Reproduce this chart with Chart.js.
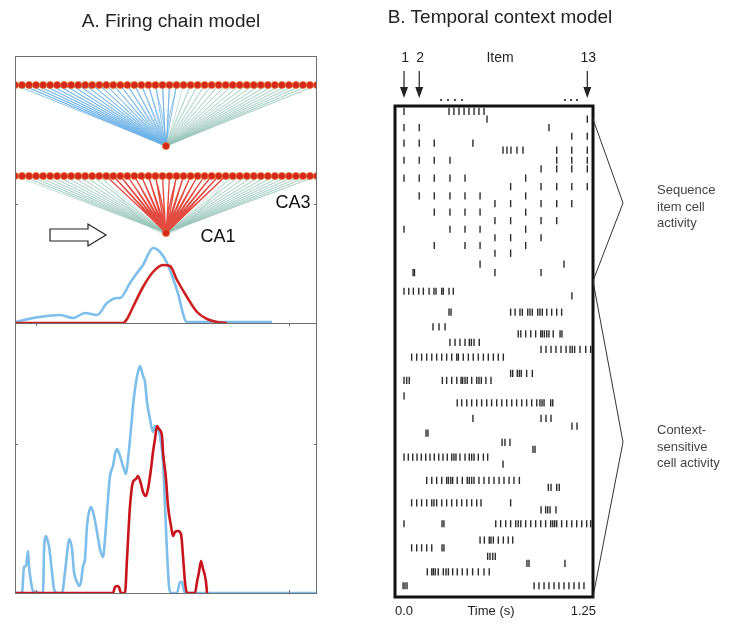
<!DOCTYPE html>
<html>
<head>
<meta charset="utf-8">
<script src="https://cdn.jsdelivr.net/npm/chart.js@4.4.1/dist/chart.umd.min.js"></script>
<style>
html, body { margin: 0; padding: 0; background: #fff; }
#wrap { position: relative; width: 729px; height: 631px; overflow: hidden; font-family: "Liberation Sans", Arial, sans-serif; color: #222; }
#wrap canvas { position: absolute; left: 0; top: 0; }
.t { position: absolute; white-space: nowrap; }
.title { font-size: 19px; line-height: 22px; transform: translateX(-50%); }
.side { font-size: 13px; line-height: 16.5px; color: #444; }
</style>
</head>
<body>
<div id="wrap">
  <canvas id="netChart" width="729" height="631"></canvas>
  <canvas id="rateChart" width="729" height="631"></canvas>
  <canvas id="rasterChart" width="729" height="631"></canvas>
  <div class="t title" style="left:171px;top:10px">A. Firing chain model</div>
  <div class="t title" style="left:500px;top:6px">B. Temporal context model</div>
  <div class="t side" style="left:657px;top:182px">Sequence<br>item cell<br>activity</div>
  <div class="t side" style="left:657px;top:422px">Context-<br>sensitive<br>cell activity</div>
</div>
<script>
// ---- Panel A: network (neuron index along each row) ----
var nodeIndex = [0,1,2,3,4,5,6,7,8,9,10,11,12,13,14,15,16,17,18,19,20,21,22,23,24,25,26,27,28,29,30,31,32,33,34,35,36,37,38,39,40,41,42,43];
var blueInputs = [0,1,2,3,4,5,6,7,8,9,10,11,12,13,14,15,16,17,18,19,20,21,22,23];
var redInputs = [13,14,15,16,17,18,19,20,21,22,23,24,25,26,27,28,29,30];
var hubIndex = 21.5;
var rowLevel = { top: 238, hub1: 177, mid: 147, hub2: 90 };

// ---- Panel A: upper activity curves [x, y] ----
var upperBlue = [[1,1],[18,5],[32,7],[45,8],[58,5],[70,10],[82,8],[92,20],[102,25],[105,25],[115,40],[122,50],[128,58],[138,75],[145,71],[152,60],[162,33],[172,1],[257,1]];
var upperRed = [[0,0],[108,0],[112,4],[118,16],[128,36],[138,51],[148,58],[155,57],[162,43],[172,26],[182,11],[192,4],[202,1],[212,0]];

// ---- Panel A: lower activity curves [x, y] ----
var lowerBlue = [[0,0],[7,0],[9,26],[11,27],[13,42],[14,27],[16,11],[18,2],[25,0],[28,0],[29,41],[31,57],[33,51],[34,47],[37,21],[39,4],[42,0],[47,0],[50,21],[52,39],[54,54],[57,44],[59,21],[62,11],[64,7],[66,11],[68,27],[70,34],[72,67],[74,81],[76,86],[79,77],[82,61],[85,44],[88,36],[90,54],[92,81],[95,117],[98,127],[100,139],[102,144],[105,137],[108,127],[111,119],[113,134],[116,164],[118,187],[121,211],[123,221],[125,227],[128,217],[130,211],[132,191],[135,174],[138,161],[140,167],[143,164],[145,157],[148,131],[150,87],[152,41],[154,7],[156,0],[162,0],[165,11],[167,11],[169,2],[172,0],[302,0]];
var lowerRed = [[0,0],[98,0],[100,6],[102,7],[104,6],[106,0],[110,0],[112,34],[115,87],[118,111],[121,114],[123,117],[126,109],[128,101],[131,97],[133,104],[136,124],[138,141],[140,154],[142,167],[144,164],[147,157],[148,141],[151,114],[153,87],[156,67],[158,57],[160,61],[163,62],[166,59],[168,37],[170,11],[172,0],[180,0],[182,11],[184,21],[186,32],[188,24],[189,21],[191,11],[192,0]];

var frameTicksX = [21, 274];
var upperTickY = 119;
var lowerTickY = 149;

// ---- Panel B: raster ----
var itemTimes = [0.057, 0.153, 0.248, 0.347, 0.442, 0.537, 0.631, 0.730, 0.825, 0.922, 1.021, 1.116, 1.214];
var markedItems = [1, 2, 13];
var timeTicks = [0, 1.25];
// [cell row, items that fire]
var itemRows = [
  [0.7, [1]], [1.7, [13]], [2.8, [1, 2]], [3.9, [12, 13]], [4.8, [1, 2, 3]],
  [5.7, [11, 12, 13]], [7.0, [1, 2, 3, 4, 11, 12, 13]], [8.1, [10, 11, 12, 13]],
  [9.3, [1, 2, 3, 4, 5, 9]], [10.4, [8, 10, 11, 12, 13]], [11.6, [2, 3, 4, 5, 6, 9]],
  [12.6, [7, 8, 10, 11, 12]], [13.7, [3, 4, 5, 6, 9]], [14.8, [7, 8, 10, 11]],
  [15.9, [1, 4, 5, 6, 9]], [17.0, [7, 8, 10]], [18.0, [3, 5, 6, 9]], [19.0, [7, 8]]
];
// [cell row, spike times (s)]
var spikeRows = [
  [0.7, [0.341, 0.372, 0.404, 0.436, 0.467, 0.499, 0.530, 0.562]],
  [1.7, [0.581]],
  [2.8, [0.972]],
  [4.8, [0.492]],
  [5.7, [0.682, 0.707, 0.732, 0.770, 0.808]],
  [20.4, [0.537, 1.067]],
  [21.5, [0.114, 0.123, 0.631, 0.922]],
  [23.9, [0.057, 0.087, 0.116, 0.150, 0.179, 0.215, 0.246, 0.259, 0.295, 0.305, 0.341, 0.368]],
  [24.5, [1.117]],
  [26.6, [0.341, 0.354, 0.730, 0.758, 0.789, 0.804, 0.838, 0.852, 0.867, 0.901, 0.915, 0.930, 0.958, 0.989, 1.021, 1.052]],
  [28.5, [0.240, 0.278, 0.316]],
  [29.4, [0.778, 0.794, 0.825, 0.857, 0.888, 0.920, 0.930, 0.943, 0.958, 0.972, 0.999, 1.042, 1.054]],
  [30.5, [0.347, 0.379, 0.410, 0.442, 0.469, 0.482, 0.499, 0.532]],
  [31.4, [0.922, 0.953, 0.985, 1.016, 1.048, 1.080, 1.105, 1.119, 1.134, 1.168, 1.204, 1.235]],
  [32.4, [0.105, 0.137, 0.168, 0.200, 0.232, 0.263, 0.295, 0.326, 0.358, 0.390, 0.400, 0.431, 0.463, 0.494, 0.526, 0.558, 0.589, 0.621, 0.652, 0.684]],
  [34.5, [0.730, 0.743, 0.772, 0.785, 0.797, 0.831, 0.867]],
  [35.4, [0.057, 0.074, 0.090, 0.299, 0.326, 0.358, 0.390, 0.417, 0.427, 0.442, 0.456, 0.484, 0.516, 0.530, 0.545, 0.574, 0.606]],
  [37.4, [0.057]],
  [38.3, [0.393, 0.421, 0.453, 0.484, 0.516, 0.547, 0.579, 0.610, 0.642, 0.674, 0.705, 0.737, 0.768, 0.800, 0.831, 0.863, 0.895, 0.915, 0.928, 0.941, 0.983, 0.996]],
  [40.3, [0.492, 0.922, 0.953, 0.985]],
  [41.3, [1.117, 1.149]],
  [42.2, [0.196, 0.208]],
  [43.4, [0.676, 0.694, 0.726]],
  [44.3, [0.871, 0.884]],
  [45.3, [0.057, 0.084, 0.112, 0.139, 0.166, 0.194, 0.221, 0.248, 0.276, 0.303, 0.330, 0.358, 0.372, 0.385, 0.410, 0.442, 0.469, 0.484, 0.499, 0.526, 0.558, 0.585]],
  [46.2, [0.682]],
  [48.3, [0.200, 0.232, 0.263, 0.295, 0.326, 0.337, 0.352, 0.364, 0.393, 0.425, 0.456, 0.469, 0.484, 0.499, 0.530, 0.562, 0.593, 0.625, 0.657, 0.688, 0.720, 0.751, 0.785]],
  [49.2, [0.968, 0.985, 1.021, 1.037]],
  [51.2, [0.105, 0.137, 0.168, 0.200, 0.232, 0.246, 0.263, 0.295, 0.326, 0.358, 0.390, 0.421, 0.453, 0.484, 0.516, 0.543, 0.730]],
  [52.1, [0.922, 0.951, 0.964, 0.979, 1.016]],
  [53.9, [0.057, 0.297, 0.309, 0.636, 0.667, 0.699, 0.730, 0.762, 0.778, 0.794, 0.825, 0.857, 0.888, 0.920, 0.951, 0.983, 0.996, 1.008, 1.021, 1.052, 1.084, 1.116, 1.147, 1.179, 1.210, 1.235]],
  [56.0, [0.537, 0.564, 0.595, 0.606, 0.621, 0.652, 0.684, 0.715, 0.743]],
  [57.0, [0.105, 0.137, 0.168, 0.200, 0.232, 0.297, 0.309]],
  [58.1, [0.585, 0.600, 0.617, 0.633]],
  [59.0, [0.833, 0.846, 1.073]],
  [60.1, [0.204, 0.232, 0.242, 0.254, 0.273, 0.305, 0.322, 0.337, 0.364, 0.393, 0.425, 0.456, 0.490, 0.526, 0.562, 0.595]],
  [61.9, [0.051, 0.063, 0.076, 0.878, 0.909, 0.941, 0.972, 1.004, 1.035, 1.067, 1.098, 1.130, 1.162, 1.193]]
];

var FONT = '"Liberation Sans", Arial, sans-serif';

function pts(arr) {
    return arr.map(function (p) { return { x: p[0], y: p[1] }; });
}

function fan(nodes, rowY, hubY) {
    var out = [];
    nodes.forEach(function (i) {
        out.push({ x: i, y: rowY });
        out.push({ x: hubIndex, y: hubY });
    });
    return out;
}

function lineSet(data, color, width, axis, tension) {
    return {
        type: 'scatter', data: data, showLine: true, xAxisID: axis || 'x',
        borderColor: color, borderWidth: width, pointRadius: 0,
        tension: tension || 0, cubicInterpolationMode: 'monotone', fill: false
    };
}

function nodeSet(data) {
    return {
        type: 'scatter', data: data, xAxisID: 'xn', showLine: false,
        pointRadius: 3.6, pointBackgroundColor: '#d5281c',
        pointBorderColor: '#e8742c', pointBorderWidth: 0.7
    };
}

function baseOptions(pad, xRange, yRange, reverse) {
    return {
        responsive: false, animation: false, events: [],
        layout: { padding: pad },
        plugins: { legend: { display: false }, tooltip: { enabled: false } },
        scales: {
            x: { type: 'linear', display: false, min: xRange[0], max: xRange[1] },
            y: { type: 'linear', display: false, min: yRange[0], max: yRange[1], reverse: !!reverse }
        }
    };
}

// frame + inward tick marks
function framePlugin(id, opts) {
    return {
        id: id,
        afterDatasetsDraw: function (chart) {
            var ctx = chart.ctx, a = chart.chartArea, sx = chart.scales.x, sy = chart.scales.y;
            ctx.save();
            ctx.strokeStyle = '#6e6e6e';
            ctx.lineWidth = 1;
            ctx.strokeRect(a.left + 0.5, a.top + 0.5, a.right - a.left - 1, a.bottom - a.top);
            ctx.beginPath();
            (opts.ticksX || []).forEach(function (v) {
                var px = Math.round(sx.getPixelForValue(v)) + 0.5;
                ctx.moveTo(px, a.top); ctx.lineTo(px, a.top + 3);
                ctx.moveTo(px, a.bottom); ctx.lineTo(px, a.bottom - 3);
            });
            (opts.ticksY || []).forEach(function (v) {
                var py = Math.round(sy.getPixelForValue(v)) + 0.5;
                ctx.moveTo(a.left, py); ctx.lineTo(a.left + 3, py);
                ctx.moveTo(a.right, py); ctx.lineTo(a.right - 3, py);
            });
            ctx.stroke();
            if (opts.extra) opts.extra(chart);
            ctx.restore();
        }
    };
}

// ---------- Chart 1: network + first activity curves ----------
var grayFan = 'rgba(150, 196, 184, 0.55)';
var ca3Gray = nodeIndex.filter(function (i) { return blueInputs.indexOf(i) < 0; });
var ca1Gray = nodeIndex.filter(function (i) { return redInputs.indexOf(i) < 0; });

var netOpts = baseOptions({ left: 15, top: 56, right: 412, bottom: 308 }, [0, 302], [0, 267]);
netOpts.scales.xn = { type: 'linear', display: false, min: 0, max: 43 };

new Chart(document.getElementById('netChart').getContext('2d'), {
    type: 'scatter',
    data: {
        datasets: [
            lineSet(pts(upperRed), '#cf1f1f', 2.6, 'x', 0.3),
            lineSet(pts(upperBlue), '#7dbfea', 2.6, 'x', 0.3),
            nodeSet(nodeIndex.map(function (i) { return { x: i, y: rowLevel.top }; })
                .concat(nodeIndex.map(function (i) { return { x: i, y: rowLevel.mid }; }))
                .concat([{ x: hubIndex, y: rowLevel.hub1 }, { x: hubIndex, y: rowLevel.hub2 }])),
            lineSet(fan(redInputs, rowLevel.mid, rowLevel.hub2), 'rgba(222, 42, 30, 0.85)', 1.3, 'xn'),
            lineSet(fan(ca1Gray, rowLevel.mid, rowLevel.hub2), grayFan, 1, 'xn'),
            lineSet(fan(blueInputs, rowLevel.top, rowLevel.hub1), 'rgba(108, 178, 230, 0.8)', 1, 'xn'),
            lineSet(fan(ca3Gray, rowLevel.top, rowLevel.hub1), grayFan, 1, 'xn')
        ]
    },
    options: netOpts,
    plugins: [framePlugin('frameA1', {
        ticksY: [upperTickY],
        extra: function (chart) {
            var ctx = chart.ctx;
            ctx.fillStyle = '#111';
            ctx.font = '18px ' + FONT;
            ctx.textAlign = 'center';
            ctx.textBaseline = 'middle';
            ctx.fillText('CA3', 293, 203);
            ctx.fillText('CA1', 218, 237);
            // hollow arrow
            ctx.beginPath();
            ctx.moveTo(50, 229); ctx.lineTo(88, 229); ctx.lineTo(88, 224);
            ctx.lineTo(106, 235); ctx.lineTo(88, 246); ctx.lineTo(88, 241);
            ctx.lineTo(50, 241); ctx.closePath();
            ctx.fillStyle = '#fff';
            ctx.fill();
            ctx.strokeStyle = '#222';
            ctx.lineWidth = 1.2;
            ctx.stroke();
        }
    })]
});

// ---------- Chart 2: second activity curves ----------
new Chart(document.getElementById('rateChart').getContext('2d'), {
    type: 'scatter',
    data: {
        datasets: [
            lineSet(pts(lowerRed), '#c8141b', 2.6, 'x', 0.2),
            lineSet(pts(lowerBlue), '#7dbfea', 2.6, 'x', 0.2)
        ]
    },
    options: baseOptions({ left: 15, top: 323, right: 412, bottom: 38 }, [0, 302], [0, 270]),
    plugins: [framePlugin('frameA2', { ticksX: frameTicksX, ticksY: [lowerTickY] })]
});

// ---------- Chart 3: raster ----------
var spikes = [];
itemRows.forEach(function (r) {
    r[1].forEach(function (k) { spikes.push({ x: itemTimes[k - 1], y: r[0] }); });
});
spikeRows.forEach(function (r) {
    r[1].forEach(function (t) { spikes.push({ x: t, y: r[0] }); });
});

var rasterDecor = {
    id: 'rasterDecor',
    afterDatasetsDraw: function (chart) {
        var ctx = chart.ctx, a = chart.chartArea, sx = chart.scales.x;
        ctx.save();
        ctx.strokeStyle = '#111';
        ctx.lineWidth = 3;
        ctx.strokeRect(a.left, a.top, a.right - a.left, a.bottom - a.top);

        ctx.fillStyle = '#222';
        ctx.strokeStyle = '#222';
        ctx.font = '14px ' + FONT;
        ctx.textAlign = 'center';
        ctx.textBaseline = 'middle';
        markedItems.forEach(function (k) {
            var px = sx.getPixelForValue(itemTimes[k - 1]);
            ctx.fillText(String(k), px + 1, 58);
            ctx.lineWidth = 1.2;
            ctx.beginPath(); ctx.moveTo(px, 71); ctx.lineTo(px, 89); ctx.stroke();
            ctx.beginPath(); ctx.moveTo(px - 4, 87); ctx.lineTo(px + 4, 87); ctx.lineTo(px, 98); ctx.closePath(); ctx.fill();
        });
        ctx.fillText('Item', 500, 58);
        [441, 448, 455, 462, 565, 571, 577].forEach(function (dx) {
            ctx.beginPath(); ctx.arc(dx, 100, 1.1, 0, Math.PI * 2); ctx.fill();
        });

        // time axis labels
        ctx.font = '13px ' + FONT;
        ctx.textAlign = 'left';
        ctx.fillText(timeTicks[0].toFixed(1), sx.getPixelForValue(timeTicks[0]), 611);
        ctx.textAlign = 'right';
        ctx.fillText(String(timeTicks[1]), sx.getPixelForValue(timeTicks[1]) + 3, 611);
        ctx.textAlign = 'center';
        ctx.fillText('Time (s)', (a.left + a.right) / 2 - 3, 611);

        // brackets
        ctx.lineWidth = 1;
        ctx.strokeStyle = '#333';
        ctx.beginPath();
        ctx.moveTo(a.right, 119); ctx.lineTo(623, 203); ctx.lineTo(a.right, 281);
        ctx.lineTo(623, 442); ctx.lineTo(a.right, a.bottom);
        ctx.stroke();
        ctx.restore();
    }
};

new Chart(document.getElementById('rasterChart').getContext('2d'), {
    type: 'scatter',
    data: {
        datasets: [{
            data: spikes, pointStyle: 'line', rotation: 90, pointRadius: 3.6,
            pointBorderWidth: 1.4, pointBorderColor: '#2b2b2b', borderColor: '#2b2b2b'
        }]
    },
    options: baseOptions({ left: 395, top: 106, right: 136, bottom: 34 }, [0, 1.25], [0, 63.35], true),
    plugins: [rasterDecor]
});
</script>
</body>
</html>
